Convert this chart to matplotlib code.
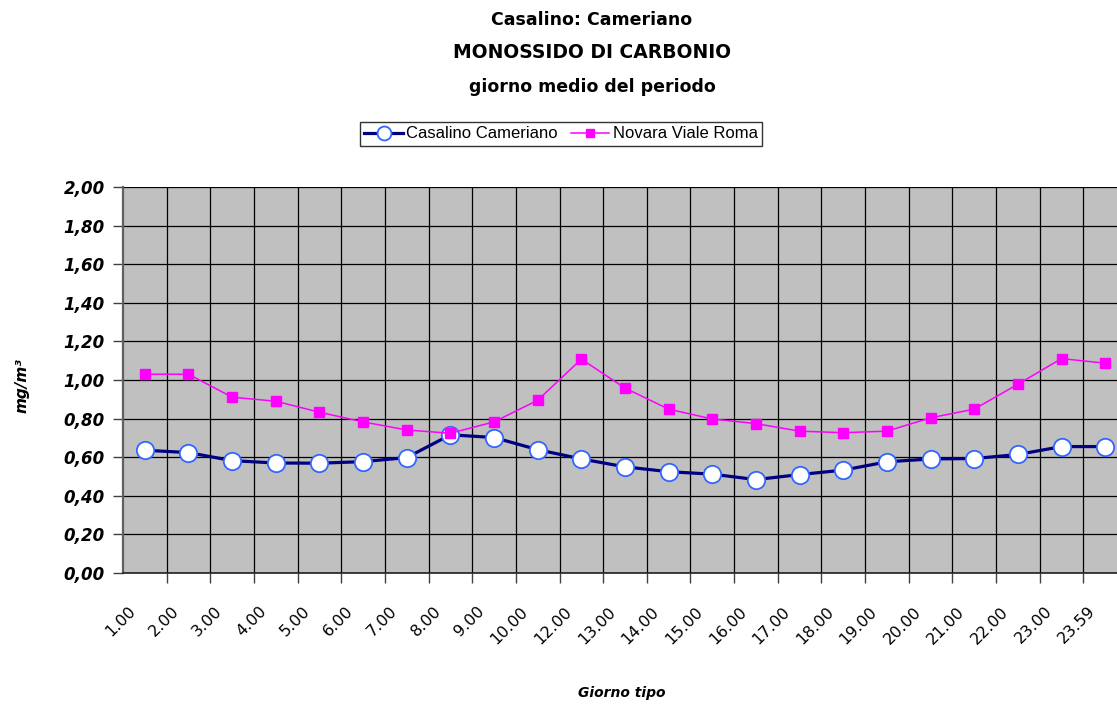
import matplotlib
matplotlib.use("Agg")
import matplotlib.pyplot as plt
import matplotlib.transforms as mtransforms
from matplotlib.ticker import FixedLocator, NullFormatter

# Dati
ore = ['1.00', '2.00', '3.00', '4.00', '5.00', '6.00', '7.00', '8.00', '9.00',
       '10.00', '12.00', '13.00', '14.00', '15.00', '16.00', '17.00', '18.00',
       '19.00', '20.00', '21.00', '22.00', '23.00', '23.59']
casalino = [0.636, 0.624, 0.582, 0.570, 0.569, 0.577, 0.598, 0.716, 0.702,
            0.639, 0.591, 0.550, 0.525, 0.512, 0.484, 0.510, 0.533, 0.576,
            0.591, 0.593, 0.614, 0.655, 0.655]
novara = [1.030, 1.030, 0.911, 0.890, 0.833, 0.783, 0.741, 0.724, 0.783,
          0.895, 1.108, 0.958, 0.849, 0.798, 0.774, 0.735, 0.727, 0.735,
          0.804, 0.849, 0.978, 1.111, 1.087]

fig = plt.figure(figsize=(11.17, 7.04), dpi=100)
ax = fig.add_axes([123 / 1117, 131 / 704, 1004 / 1117, 386 / 704])
ax.set_facecolor('#C0C0C0')

x = list(range(len(ore)))
ax.plot(x, casalino, color='#000080', lw=2.3, marker='o', markersize=12.5,
        markerfacecolor='white', markeredgecolor='#3366FF', markeredgewidth=1.3,
        label='Casalino Cameriano', zorder=3)
ax.plot(x, novara, color='#FF00FF', lw=1.1, marker='s', markersize=7,
        markerfacecolor='#FF00FF', markeredgecolor='#FF00FF',
        label='Novara Viale Roma', zorder=4)

ax.set_xlim(-0.5, len(ore) - 0.5)
ax.set_ylim(0, 2.0)

# assi
ax.set_yticks([i * 0.2 for i in range(11)])
ax.set_yticklabels([f'{i * 0.2:.2f}'.replace('.', ',') for i in range(11)],
                   fontsize=12, fontweight='bold', fontstyle='italic')
ax.tick_params(axis='y', direction='out', length=7, width=1, color='#404040', pad=6)

ax.xaxis.set_major_locator(FixedLocator(x))
ax.set_xticklabels(ore, fontsize=11.5, rotation=45, ha='right', va='center',
                   rotation_mode='anchor')
ax.xaxis.set_minor_locator(FixedLocator([i - 0.5 for i in range(1, len(ore) + 1)]))
ax.xaxis.set_minor_formatter(NullFormatter())
ax.tick_params(axis='x', which='major', length=0, pad=26)
ax.tick_params(axis='x', which='minor', direction='out', length=7, width=1, color='#404040')
offset = mtransforms.ScaledTranslation(-0.12, 0, fig.dpi_scale_trans)
for lab in ax.get_xticklabels():
    lab.set_transform(lab.get_transform() + offset)

ax.grid(True, axis='y', which='major', color='black', lw=0.9)
ax.grid(True, axis='x', which='minor', color='black', lw=0.9)
ax.set_axisbelow(True)

for s in ['top', 'right']:
    ax.spines[s].set_visible(False)
ax.spines['left'].set_color('#606060')
ax.spines['left'].set_linewidth(1.6)
ax.spines['bottom'].set_color('#202020')
ax.spines['bottom'].set_linewidth(1.2)

fig.text(22 / 1117, 1 - 386 / 704, 'mg/m³', rotation=90, ha='center', va='center',
         fontsize=11, fontweight='bold', fontstyle='italic')
fig.text(622 / 1117, 1 - 693 / 704, 'Giorno tipo', ha='center', va='center',
         fontsize=10, fontweight='bold', fontstyle='italic')

# titolo
titoli = ['Casalino: Cameriano', 'MONOSSIDO DI CARBONIO', 'giorno medio del periodo']
dimensioni = [12.5, 13.5, 12.5]
for t, yy, fs in zip(titoli, [20, 53, 87], dimensioni):
    fig.text(592 / 1117, 1 - yy / 704, t, ha='center', va='center',
             fontsize=fs, fontweight='bold')

leg = fig.legend(loc='center', bbox_to_anchor=(561 / 1117, 1 - 134 / 704),
                 ncol=2, frameon=True, fancybox=False, shadow=False,
                 prop={'family': 'Liberation Sans', 'size': 12},
                 handlelength=2.3, handletextpad=0.2, columnspacing=0.8,
                 borderpad=0.25, borderaxespad=0, markerscale=0.8)
leg.get_frame().set_edgecolor('black')
leg.get_frame().set_linewidth(1.0)

fig.savefig('out.png', dpi=100)
